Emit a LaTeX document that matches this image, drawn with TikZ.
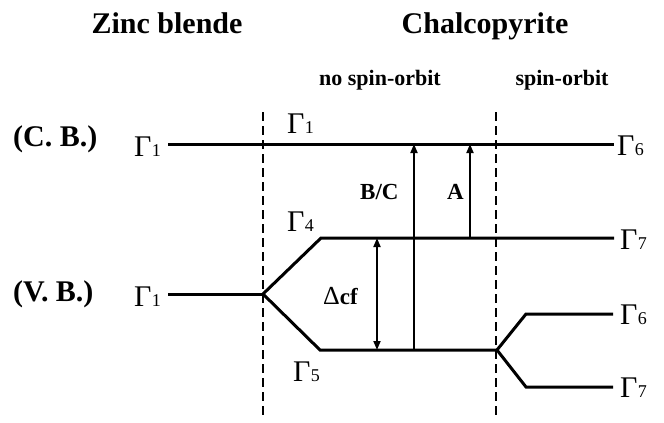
\documentclass[tikz,border=0pt]{standalone}
\usepackage{fontspec}
\setmainfont{Liberation Serif}
\usetikzlibrary{arrows.meta}
\newcommand\Gam[1]{Γ\kern0.3pt{\fontsize{18}{18}\selectfont #1}}
\tikzset{
  level/.style={line width=3pt},
  trans/.style={line width=1.8pt,-{Triangle[length=9pt,width=7pt]}},
  both/.style={line width=1.8pt,{Triangle[length=9pt,width=7pt]}-{Triangle[length=9pt,width=7pt]}},
  divider/.style={line width=1.3pt,dash pattern=on 9pt off 5pt},
  lbl/.style={inner sep=0pt,anchor=base west},
  gam/.style={lbl,font=\fontsize{30}{30}\selectfont},
  title/.style={inner sep=0pt,anchor=base,font=\fontsize{30}{30}\selectfont\bfseries},
  sub/.style={inner sep=0pt,anchor=base,font=\fontsize{22}{22}\selectfont\bfseries},
  band/.style={lbl,font=\fontsize{30}{30}\selectfont\bfseries},
  tr/.style={lbl,font=\fontsize{23}{23}\selectfont\bfseries}
}
\begin{document}
\begin{tikzpicture}[x=1pt,y=-1pt]
\useasboundingbox (0,0) rectangle (664,423);
% titles
\node[title] (tzb) at (167,33) {Zinc blende};
\node[title] (tch) at (485,33) {Chalcopyrite};
\node[sub] (tnso) at (380,85) {no spin-orbit};
\node[sub] (tso) at (562,85) {spin-orbit};
\node[band] (cb) at (13,146) {(C. B.)};
\node[band] (vb) at (13,301) {(V. B.)};
% dividers
\coordinate (d1t) at (263,112); \coordinate (d1b) at (263,418);
\coordinate (d2t) at (496,112); \coordinate (d2b) at (496,418);
\draw[divider] (d1t) -- (d1b);
\draw[divider] (d2t) -- (d2b);
% level coordinates
\coordinate (cbL) at (168,144); \coordinate (cbR) at (614,144);
\coordinate (vbL) at (168,294); \coordinate (vbV) at (263,294);
\coordinate (g4a) at (321,238); \coordinate (g4b) at (614,238);
\coordinate (g5a) at (320,350); \coordinate (g5V) at (497,350);
\coordinate (g6a) at (526,314); \coordinate (g6b) at (613,314);
\coordinate (g7a) at (526,387); \coordinate (g7b) at (613,387);
% levels
\draw[level] (cbL) -- (cbR);
\draw[level] (vbL) -- (vbV);
\draw[level,line join=miter] (g4b) -- (g4a) -- (vbV) -- (g5a) -- (g5V);
\draw[level,line join=miter] (g6b) -- (g6a) -- (g5V) -- (g7a) -- (g7b);
% transitions
\coordinate (bcS) at (414,350); \coordinate (bcE) at (414,144);
\coordinate (aS) at (470,238); \coordinate (aE) at (470,144);
\coordinate (dT) at (377,238); \coordinate (dB) at (377,350);
\draw[trans] (bcS) -- (bcE);
\draw[trans] (aS) -- (aE);
\draw[both] (dT) -- (dB);
\node[tr] (lbc) at (360,199) {B/C};
\node[tr] (la) at (447,199) {A};
\node[lbl] (ldcf) at (323,304) {{\fontsize{26}{26}\selectfont Δ}{\fontsize{23}{23}\selectfont\bfseries cf}};
% gamma labels
\node[gam] (l1) at (134,156) {\Gam{1}};
\node[gam] (l2) at (287,133) {\Gam{1}};
\node[gam] (l3) at (617,155) {\Gam{6}};
\node[gam] (l4) at (287,231) {\Gam{4}};
\node[gam] (l5) at (620,249) {\Gam{7}};
\node[gam] (l6) at (134,306) {\Gam{1}};
\node[gam] (l7) at (293,381) {\Gam{5}};
\node[gam] (l8) at (620,324) {\Gam{6}};
\node[gam] (l9) at (620,397) {\Gam{7}};
\end{tikzpicture}
\end{document}
